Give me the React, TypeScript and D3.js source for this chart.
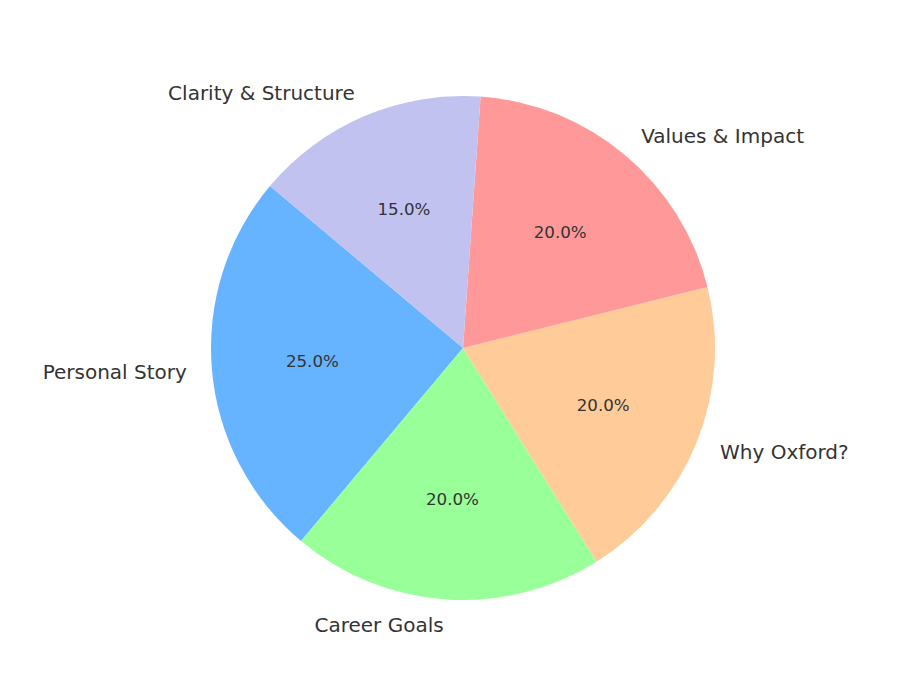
import React, { FC, useMemo } from 'react'
import * as d3 from 'd3'

const categories = ['Personal Story', 'Career Goals', 'Why Oxford?', 'Values & Impact', 'Clarity & Structure']
const shares = [25, 20, 20, 20, 15]
const colors = ['#66b3ff', '#99ff99', '#ffcc99', '#ff9999', '#c2c2f0']

const WIDTH = 919
const HEIGHT = 696
const CX = 463
const CY = 348
const RADIUS = 252

interface ISlice {
	label: string
	value: number
	color: string
}

const toRad = (deg: number) => (deg * Math.PI) / 180

const App: FC = () => {
	const data: ISlice[] = categories.map((label, i) => ({
		label,
		value: shares[i],
		color: colors[i]
	}))

	// matplotlib startangle=140, counter-clockwise -> d3 clock angles
	const arcs = useMemo(() => {
		return d3
			.pie<ISlice>()
			.sort(null)
			.value(d => d.value)
			.startAngle(toRad(90 - 140))
			.endAngle(toRad(90 - 140 - 360))(data)
	}, [])

	const arcGen = d3.arc<d3.PieArcDatum<ISlice>>().innerRadius(0).outerRadius(RADIUS)
	const total = d3.sum(shares)

	return (
		<svg
			width={WIDTH}
			height={HEIGHT}
			style={{ position: 'absolute', left: 0, top: 0, background: '#fff' }}
			fontFamily="'DejaVu Sans', sans-serif"
		>
			<g transform={`translate(${CX}, ${CY})`}>
				{arcs.map((a, i) => (
					<path key={i} d={arcGen(a) || ''} fill={a.data.color}></path>
				))}
				{arcs.map((a, i) => {
					const mid = (a.startAngle + a.endAngle) / 2
					const lx = 1.1 * RADIUS * Math.sin(mid)
					const ly = -1.1 * RADIUS * Math.cos(mid)
					const px = 0.6 * RADIUS * Math.sin(mid)
					const py = -0.6 * RADIUS * Math.cos(mid)
					return (
						<g key={i}>
							<text
								x={lx}
								y={ly}
								textAnchor={lx > 0 ? 'start' : 'end'}
								dominantBaseline="central"
								fontSize={20}
								fill="#333333"
							>
								{a.data.label}
							</text>
							<text
								x={px}
								y={py}
								textAnchor="middle"
								dominantBaseline="central"
								fontSize={16.7}
								fill="#333333"
							>
								{((a.data.value / total) * 100).toFixed(1)}%
							</text>
						</g>
					)
				})}
			</g>
		</svg>
	)
}

export default App
